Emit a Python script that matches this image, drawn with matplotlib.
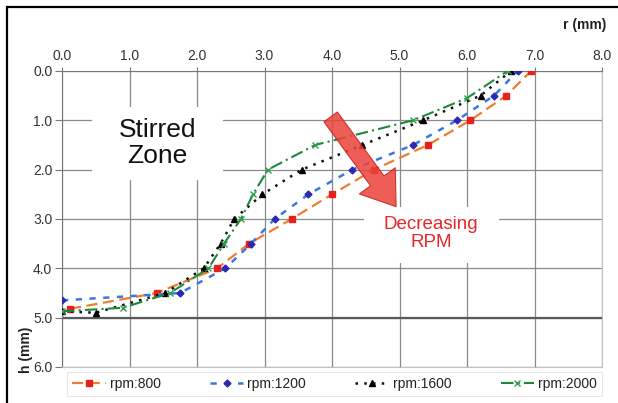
import matplotlib
matplotlib.use('Agg')
import matplotlib.pyplot as plt
from matplotlib.patches import Rectangle

plt.rcParams['font.family'] = ['Liberation Sans', 'DejaVu Sans']

# measured profiles: r (mm) vs h (mm)
r_800 = [0.12, 1.4, 2.3, 2.77, 3.4, 4.0, 4.62, 5.42, 6.05, 6.58, 6.95]
h_800 = [4.82, 4.5, 4.0, 3.5, 3.0, 2.5, 2.0, 1.5, 1.0, 0.5, 0.0]

r_1200 = [0.0, 1.75, 2.42, 2.8, 3.15, 3.65, 4.3, 5.2, 5.85, 6.4, 6.75]
h_1200 = [4.65, 4.5, 4.0, 3.5, 3.0, 2.5, 2.0, 1.5, 1.0, 0.5, 0.0]

r_1600 = [0.0, 0.5, 1.53, 2.1, 2.35, 2.55, 2.97, 3.55, 4.45, 5.35, 6.2, 6.65]
h_1600 = [4.87, 4.9, 4.5, 4.0, 3.5, 3.0, 2.5, 2.0, 1.5, 1.0, 0.5, 0.0]

r_2000 = [0.0, 0.9, 1.6, 2.17, 2.4, 2.65, 2.83, 3.05, 3.75, 5.2, 6.0, 6.6]
h_2000 = [4.87, 4.8, 4.5, 4.0, 3.5, 3.0, 2.5, 2.0, 1.5, 1.0, 0.55, 0.0]

labels = ['rpm:800', 'rpm:1200', 'rpm:1600', 'rpm:2000']
x_ticks = [0, 1, 2, 3, 4, 5, 6, 7, 8]
y_ticks = [0, 1, 2, 3, 4, 5, 6]

fig = plt.figure(figsize=(6.18, 4.03), dpi=100)
ax = fig.add_axes([62 / 618, 1 - 367 / 403, 540 / 618, 296 / 403])

ax.set_xlim(0, 8)
ax.set_ylim(6, 0)
ax.xaxis.tick_top()
ax.set_xticks(x_ticks)
ax.set_yticks(y_ticks)
ax.set_xticklabels(['%.1f' % v for v in x_ticks])
ax.set_yticklabels(['%.1f' % v for v in y_ticks])
ax.tick_params(axis='x', length=3, color='#777777', labelsize=10, labelcolor='#333333', pad=3)
ax.tick_params(axis='y', length=5, color='#777777', labelsize=10, labelcolor='#333333', pad=2)
ax.grid(True, color='#8a8a8a', lw=0.9, zorder=0)
ax.set_axisbelow(True)
for side in ['left', 'top']:
    ax.spines[side].set_color('#777777')
for side in ['right', 'bottom']:
    ax.spines[side].set_color('#c0c0c0')
ax.axhline(5, color='#5a5a5a', lw=1.6, zorder=1)

# white boxes behind the annotations
ax.add_patch(Rectangle((0.45, 0.73), 1.93, 1.48, fc='white', ec='none', zorder=1.5))
ax.add_patch(Rectangle((4.48, 2.75), 2.0, 1.14, fc='white', ec='none', zorder=1.5))

ax.plot(r_800, h_800, color='#f07c30', lw=1.6, dashes=(5, 2.5), marker='s',
        ms=5, mfc='#e8201c', mec='#e8201c', label=labels[0], zorder=3)
ax.plot(r_1200, h_1200, color='#3a78e0', lw=1.8, dashes=(2.5, 3), marker='D',
        ms=3.5, mfc='#2a2ab0', mec='#2a2ab0', label=labels[1], zorder=3)
ax.plot(r_1600, h_1600, color='#111111', lw=1.8, dashes=(1, 2.5), marker='^',
        ms=4.5, mfc='black', mec='black', label=labels[2], zorder=3)
ax.plot(r_2000, h_2000, color='#1a8a3a', lw=1.5, dashes=(6, 2, 1, 2), marker='x',
        ms=5, mew=1.0, mec='#30a050', label=labels[3], zorder=3)

ax.text(1.41, 1.46, 'Stirred\nZone', fontsize=19, ha='center', va='center',
        color='#111111', linespacing=1.1, zorder=4)
ax.text(5.47, 3.3, 'Decreasing\nRPM', fontsize=13.5, ha='center', va='center',
        color='#e8262a', linespacing=1.1, zorder=4)

ax.annotate('', xy=(4.95, 2.75), xytext=(3.98, 0.93),
            arrowprops=dict(arrowstyle='simple,head_width=3.2,head_length=2.3,tail_width=1.2',
                            mutation_scale=10, fc='#ec4238', ec='#c42020', lw=0.8,
                            alpha=0.85, shrinkA=0, shrinkB=0), zorder=5)

leg = ax.legend(loc='upper left', bbox_to_anchor=(0.01, -0.017, 0.99, 0), mode='expand',
                ncol=4, fontsize=10, frameon=True, fancybox=False, borderaxespad=0,
                handlelength=2.4, borderpad=0.35, columnspacing=1.0, handletextpad=0.3)
leg.get_frame().set_edgecolor('#e2e2e2')
leg.get_frame().set_linewidth(0.8)
for t in leg.get_texts():
    t.set_color('#222222')

fig.text(585 / 618, 1 - 25 / 403, 'r (mm)', fontsize=10, fontweight='bold',
         ha='center', va='center', color='#222222')
fig.text(26 / 618, 1 - 350 / 403, 'h (mm)', fontsize=10, fontweight='bold',
         rotation=90, ha='center', va='center', color='#222222')

fig.patches.append(Rectangle((7 / 618, -0.05), 1.2, 1.05 - 7 / 403, transform=fig.transFigure,
                             fill=False, ec='black', lw=1.6, figure=fig))

fig.savefig('out.png', dpi=100)
